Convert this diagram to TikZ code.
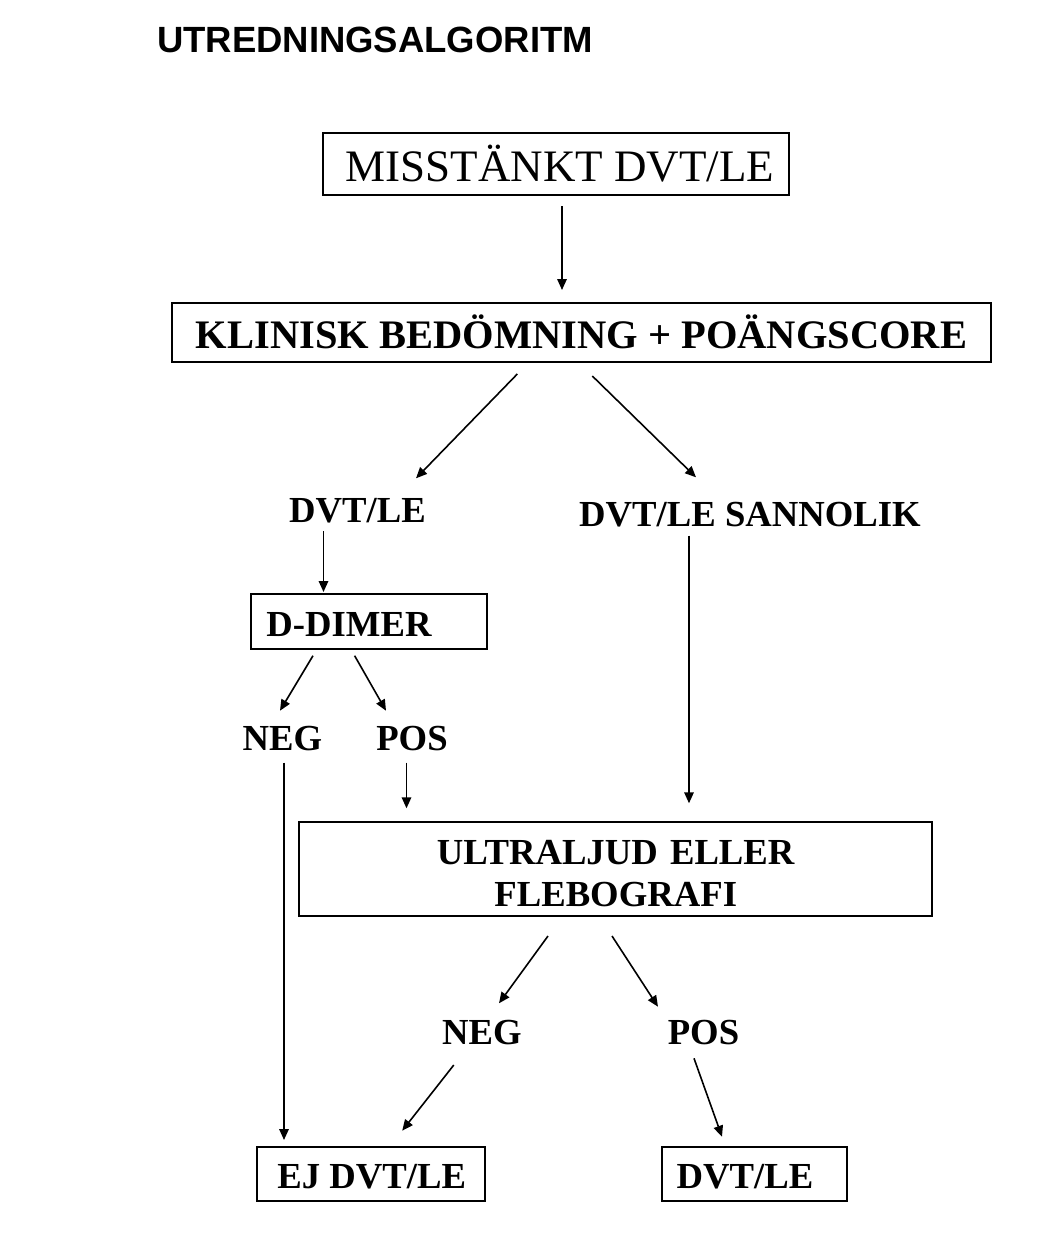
\documentclass[tikz,border=0pt]{standalone}
\usepackage{fontspec}
\setmainfont{Liberation Serif}
\newfontfamily\titlefont{Liberation Sans}
\usetikzlibrary{arrows.meta}
\begin{document}
\begin{tikzpicture}[x=1pt,y=-1pt,
  boxnode/.style={draw, line width=2pt, inner sep=0pt, text depth=0pt,
    font=\bfseries\fontsize{36.7}{42}\selectfont},
  lbl/.style={inner sep=0pt, anchor=base, font=\bfseries\fontsize{36.7}{42}\selectfont},
  arr/.style={line width=1.6pt, -{Triangle[length=11pt,width=9.5pt]}}]
\useasboundingbox (0,0) rectangle (1047,1248);

% title
\node[lbl, font=\titlefont\bfseries\fontsize{36.5}{44}\selectfont] (title) at (375,52.7) {UTREDNINGSALGORITM};

% boxes
\node[boxnode, font=\fontsize{45}{54}\selectfont, minimum width=466pt, minimum height=62.3pt, text height=35.6pt] (miss) at (556,163.9) {\kern8pt MISSTÄNKT DVT/LE};
\node[boxnode, font=\bfseries\fontsize{40.5}{48}\selectfont, minimum width=819pt, minimum height=59pt, text height=32.2pt] (klin) at (581.5,332.2) {KLINISK BEDÖMNING + POÄNGSCORE};
\node[boxnode, minimum width=236pt, minimum height=54.7pt, text height=30pt] (dd) at (369,621.7) {D-DIMER\kern40pt};
\node[boxnode, minimum width=632.5pt, minimum height=94pt, text width=620pt, align=center, text height=24pt, text depth=33.4pt] (ul) at (615.7,868.7) {ULTRALJUD ELLER\\FLEBOGRAFI};
\node[boxnode, minimum width=228pt, minimum height=54pt, text height=29.2pt] (ej) at (370.7,1173.7) {\kern2pt EJ DVT/LE};
\node[boxnode, minimum width=185pt, minimum height=54pt, text height=29.2pt] (dvt) at (754.5,1173.7) {DVT/LE\kern19pt};

% labels
\node[lbl] (dvtl) at (357.5,522.7) {DVT/LE};
\node[lbl] (sann) at (750,526) {DVT/LE SANNOLIK};
\node[lbl] (neg1) at (282.5,750.7) {NEG};
\node[lbl] (pos1) at (412,750.7) {POS};
\node[lbl] (neg2) at (482,1044) {NEG};
\node[lbl] (pos2) at (703.5,1044) {POS};

% connector ends
\coordinate (a1s) at (562,206);    \coordinate (a1e) at (562,290);
\coordinate (a2s) at (517.3,374);  \coordinate (a2e) at (416,478.3);
\coordinate (a3s) at (592.3,376);  \coordinate (a3e) at (696,477.3);
\coordinate (a4s) at (323.5,531);  \coordinate (a4e) at (323.5,592);
\coordinate (a5s) at (313,655.7);  \coordinate (a5e) at (280,710.7);
\coordinate (a6s) at (354.6,655.7);\coordinate (a6e) at (386,710.7);
\coordinate (a7s) at (284,762.7);  \coordinate (a7e) at (284,1140);
\coordinate (a8s) at (406.5,762.7);\coordinate (a8e) at (406.5,808.3);
\coordinate (a9s) at (689,535.7);  \coordinate (a9e) at (689,803.3);
\coordinate (a10s) at (548,936);   \coordinate (a10e) at (499,1003.3);
\coordinate (a11s) at (612,936);   \coordinate (a11e) at (658,1006.7);
\coordinate (a12s) at (453.8,1065);\coordinate (a12e) at (402.2,1130.7);
\coordinate (a13s) at (694,1058.3);\coordinate (a13e) at (722,1136.7);

\foreach \i in {1,...,13} {\draw[arr] (a\i s) -- (a\i e);}
\end{tikzpicture}
\end{document}
